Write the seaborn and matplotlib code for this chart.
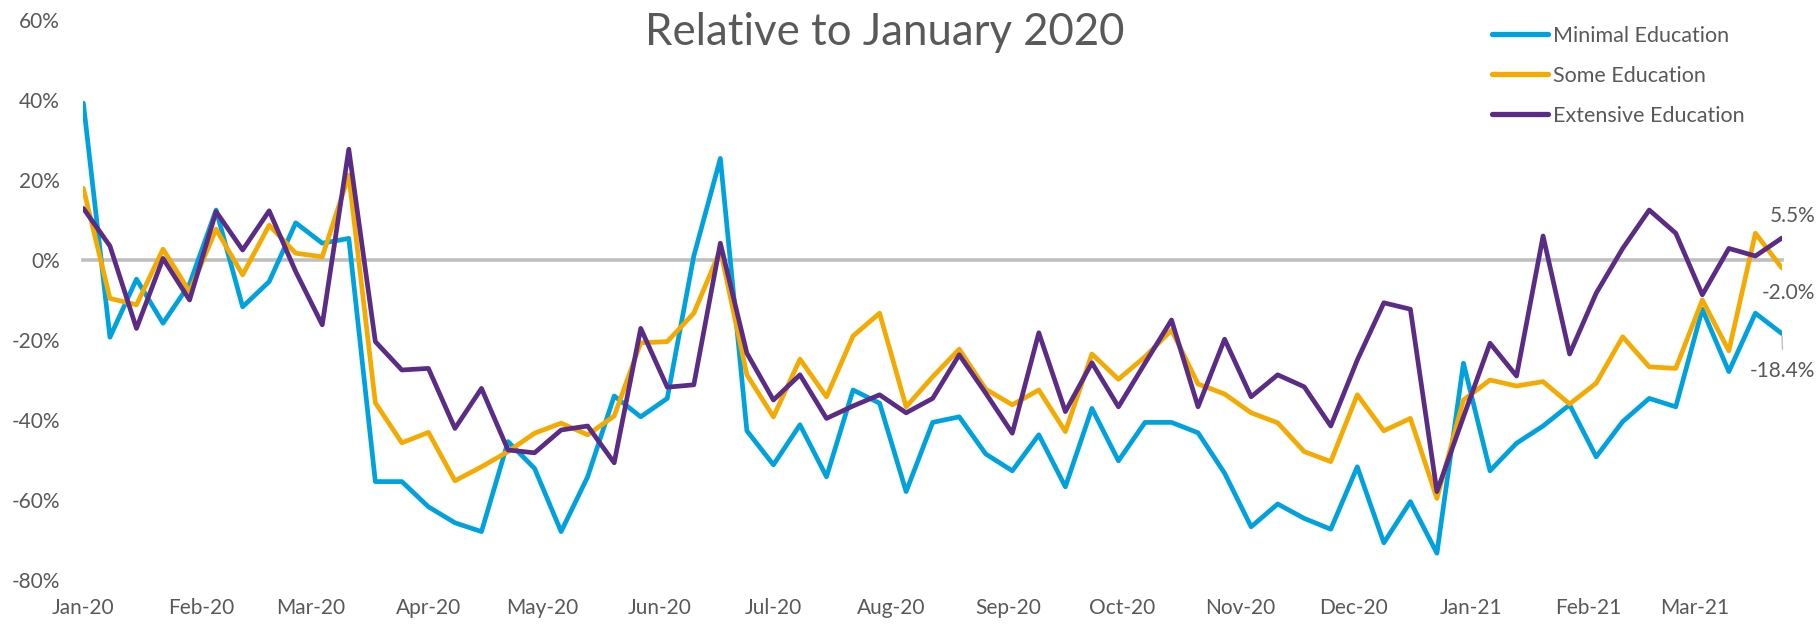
import numpy as np
import pandas as pd
import seaborn as sns
import matplotlib.pyplot as plt
import matplotlib.dates as mdates

# ---------------- data (percent change relative to January 2020, weekly) ----------------
start_date = "2020-01-01"
n_weeks = 65

minimal_education = [
    39.2, -19.3, -4.8, -15.8, -6.0, 12.5, -11.7, -5.4, 9.3, 4.2,
    5.4, -55.4, -55.4, -61.7, -65.7, -67.9, -45.4, -52.1, -67.9, -54.2,
    -34.0, -39.2, -34.6, 1.0, 25.4, -42.7, -51.2, -41.2, -54.2, -32.5,
    -35.8, -57.9, -40.6, -39.2, -48.5, -52.7, -43.7, -56.7, -37.1, -50.2,
    -40.6, -40.6, -43.2, -53.3, -66.7, -61.0, -64.6, -67.3, -51.7, -70.7,
    -60.4, -73.3, -25.8, -52.7, -45.8, -41.5, -36.2, -49.2, -40.4, -34.6,
    -36.7, -12.3, -27.9, -13.3, -18.4,
]
some_education = [
    17.9, -9.6, -11.2, 2.7, -7.9, 7.7, -3.7, 8.7, 1.7, 0.8,
    21.2, -35.7, -45.7, -43.1, -55.2, -51.7, -47.9, -43.3, -40.8, -43.7,
    -39.0, -20.7, -20.4, -13.3, 2.5, -28.7, -39.2, -24.8, -34.2, -19.0,
    -13.3, -36.7, -29.2, -22.3, -32.3, -36.2, -32.5, -42.9, -23.5, -29.8,
    -24.2, -17.5, -31.0, -33.5, -38.2, -40.7, -47.9, -50.4, -33.7, -42.7,
    -39.6, -59.6, -35.0, -30.0, -31.5, -30.4, -36.0, -30.8, -19.2, -26.7,
    -27.1, -10.0, -22.7, 6.7, -2.0,
]
extensive_education = [
    12.9, 3.5, -17.1, 0.4, -10.0, 12.1, 2.5, 12.3, -2.9, -16.2,
    27.7, -20.4, -27.5, -27.1, -42.1, -32.1, -47.5, -48.2, -42.5, -41.5,
    -50.7, -17.1, -31.8, -31.2, 4.2, -23.3, -35.0, -28.7, -39.6, -36.5,
    -33.7, -38.2, -34.6, -23.7, -33.3, -43.3, -18.2, -37.9, -25.7, -36.7,
    -25.8, -15.0, -36.7, -19.8, -34.2, -28.7, -31.7, -41.5, -25.0, -10.7,
    -12.3, -57.9, -39.2, -20.8, -29.0, 6.0, -23.5, -8.3, 2.9, 12.5,
    6.7, -8.7, 2.9, 1.0, 5.5,
]
series_names = ["Minimal Education", "Some Education", "Extensive Education"]
series_colors = ["#00A2DE", "#F4AA00", "#5B2C86"]
end_labels = ["-18.4%", "-2.0%", "5.5%"]

y_ticks = [-80, -60, -40, -20, 0, 20, 40, 60]
month_ticks = pd.date_range("2020-01-01", "2021-03-01", freq="MS")
month_labels = [d.strftime("%b-%y") for d in month_ticks]
title_text = "Relative to January 2020"

# ---------------- build frame ----------------
dates = pd.date_range(start_date, periods=n_weeks, freq="7D")
wide = pd.DataFrame({
    "date": dates,
    series_names[0]: minimal_education,
    series_names[1]: some_education,
    series_names[2]: extensive_education,
})
long = wide.melt(id_vars="date", var_name="series", value_name="value")

# ---------------- style ----------------
sns.set_theme(style="white")
plt.rcParams["font.family"] = ["Lato", "DejaVu Sans"]
text_color = "#595959"
axis_color = "#BFBFBF"

fig = plt.figure(figsize=(18.17, 6.26), dpi=100)
ax = fig.add_axes([0.0459, 0.0735, 0.9348, 0.8945])

sns.lineplot(
    data=long, x="date", y="value", hue="series",
    hue_order=series_names, palette=series_colors,
    linewidth=3.4, ax=ax, legend=False,
)
for ln in ax.get_lines():
    ln.set_solid_joinstyle("round")
    ln.set_solid_capstyle("round")

ax.set_xlim(dates[0], dates[-1])
ax.set_ylim(y_ticks[0], y_ticks[-1])
ax.set_xlabel("")
ax.set_ylabel("")

# spines: only the zero line
for s in ["left", "right", "top"]:
    ax.spines[s].set_visible(False)
ax.set_axisbelow(True)
ax.spines["bottom"].set_position(("data", 0))
ax.spines["bottom"].set_color(axis_color)
ax.spines["bottom"].set_linewidth(2.6)
ax.spines["bottom"].set_zorder(0.6)

ax.set_xticks(month_ticks)
ax.tick_params(axis="x", which="major", direction="out", length=5, width=2.6,
               color=axis_color, labelbottom=False)
ax.xaxis.set_minor_locator(plt.NullLocator())

# month labels at the bottom of the plot area
sec = ax.secondary_xaxis("bottom")
sec.set_xticks(mdates.date2num(month_ticks), labels=month_labels)
sec.tick_params(length=0, pad=13, labelsize=15, labelcolor=text_color)
sec.spines["bottom"].set_visible(False)

ax.set_yticks(y_ticks)
ax.set_yticklabels([f"{v}%" for v in y_ticks])
ax.tick_params(axis="y", length=0, pad=17, labelsize=15, labelcolor=text_color)

# end-of-series labels
last_vals = [minimal_education[-1], some_education[-1], extensive_education[-1]]
ax.annotate(end_labels[2], xy=(dates[-1], last_vals[2]), xytext=(8, 16),
            textcoords="offset points", ha="center", va="center",
            fontsize=15, color=text_color, annotation_clip=False)
ax.annotate(end_labels[1], xy=(dates[-1], last_vals[1]), xytext=(5, -18),
            textcoords="offset points", ha="center", va="center",
            fontsize=15, color=text_color, annotation_clip=False)
ax.annotate(end_labels[0], xy=(dates[-1], last_vals[0]), xytext=(0.7, -27),
            textcoords="offset points", ha="center", va="center",
            fontsize=15, color=text_color, annotation_clip=False,
            arrowprops=dict(arrowstyle="-", color=axis_color, lw=1,
                            shrinkA=6, shrinkB=2, relpos=(0.5, 1.0)))

# legend
handles = ax.get_lines()[:3]
leg = ax.legend(handles, series_names, loc="upper left",
                bbox_to_anchor=(1492 / 1817, 1 - 26 / 626),
                bbox_transform=fig.transFigure, frameon=False, fontsize=15.5,
                handlelength=2.6, handletextpad=0.25, labelspacing=0.92,
                borderpad=0, borderaxespad=0, labelcolor=text_color)
for lh in leg.get_lines():
    lh.set_linewidth(3.8)
    lh.set_solid_capstyle("round")

fig.text(885 / 1817, 1 - 45 / 626, title_text, ha="center", va="baseline",
         fontsize=31.5, color=text_color)

fig.savefig("out.png", dpi=100)
